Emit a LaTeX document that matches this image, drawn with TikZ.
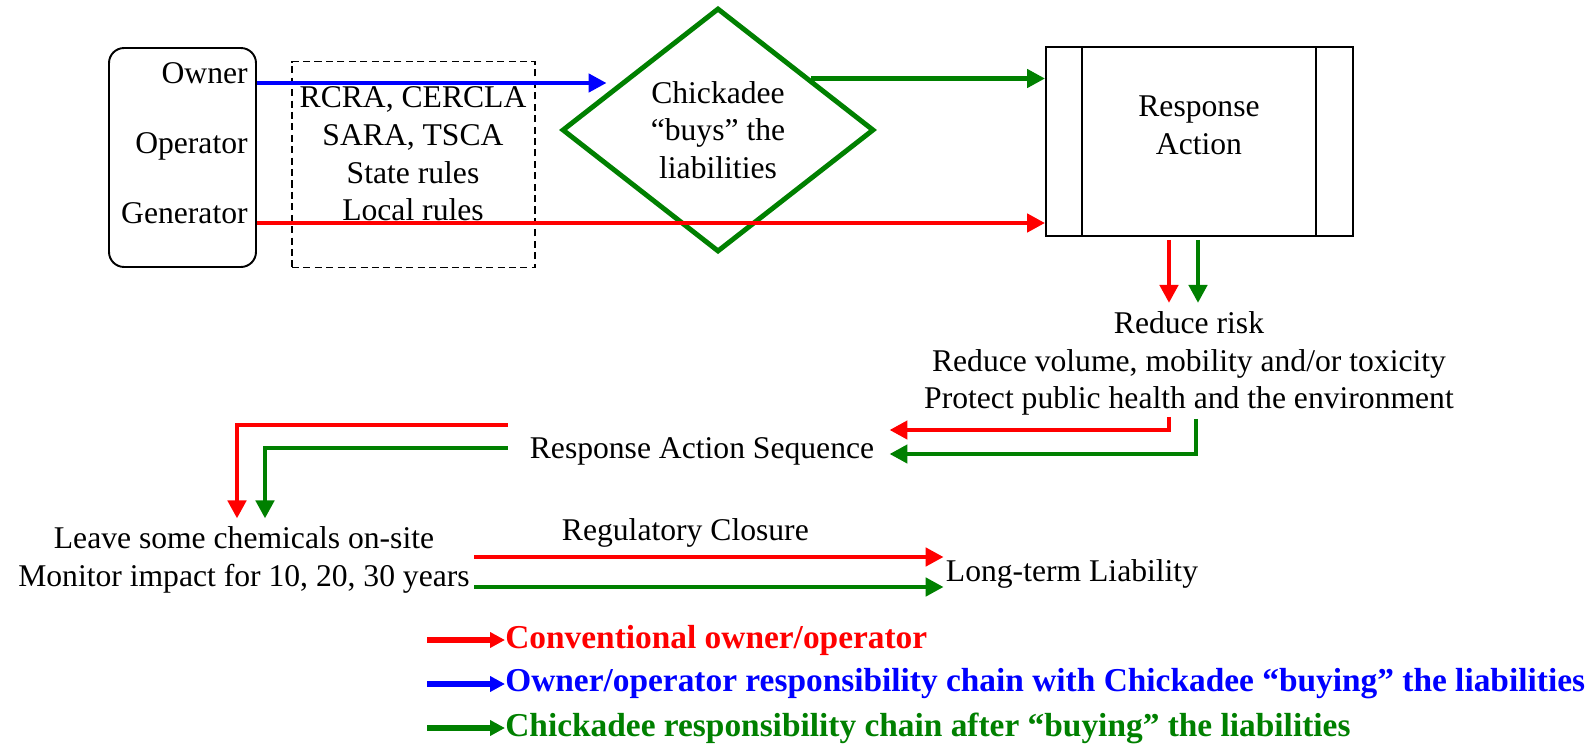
\documentclass[tikz,border=0pt]{standalone}
\usepackage{fontspec}
\setmainfont{Liberation Serif}
\usetikzlibrary{arrows.meta, shapes.geometric, calc}
\definecolor{chkGreen}{RGB}{0,128,0}
\tikzset{
  txt/.style = {inner sep=0pt, align=center, font=\fontsize{18}{21.4}\selectfont},
  partyBox/.style = {draw, line width=1.1pt, rounded corners=0.3cm,
    minimum width=2.94cm, minimum height=4.38cm},
  rulesBox/.style = {draw, dash pattern=on 4pt off 2.5pt, line width=0.9pt,
    minimum width=4.86cm, minimum height=4.12cm},
  choiceBox/.style = {txt, diamond, draw=chkGreen, line width=2.8pt, aspect=1.28,
    inner sep=0pt, minimum width=6.24cm, minimum height=4.88cm},
  procBox/.style = {draw, line width=1.1pt, minimum width=6.14cm, minimum height=3.78cm},
  flowArrow/.style = {line width=2.8pt, -{Triangle[length=0.36cm, width=0.36cm]}},
  redArrow/.style = {flowArrow, draw=red},
  blueArrow/.style = {flowArrow, draw=blue},
  greenArrow/.style = {flowArrow, draw=chkGreen},
  legendArrow/.style = {line width=3.2pt, -{Triangle[length=0.3cm, width=0.3cm]}},
  legendTxt/.style = {inner sep=0pt, anchor=west, font=\fontsize{19}{22}\selectfont\bfseries}
}
\begin{document}
\begin{tikzpicture}[x=0.02cm, y=-0.02cm]
  \useasboundingbox (0,0) rectangle (1589,747);

  % who is liable
  \node[partyBox] (party) at (182.5,157.5) {};
  \node[txt, anchor=base east] (ownr) at (248,83) {Owner};
  \node[txt, anchor=base east] (oper) at (248,153) {Operator};
  \node[txt, anchor=base east] (gen) at (248,223) {Generator};

  % regulations
  \node[rulesBox] (rules) at (413.5,164.5) {};
  \node[txt] (rulesTxt) at (413,154) {RCRA, CERCLA\\SARA, TSCA\\State rules\\Local rules};

  \node[choiceBox] (dmd) at (718,130) {Chickadee\\“buys” the\\liabilities};

  % response action box with side bars
  \node[procBox] (rsp) at (1199.5,141.5) {};
  \draw[line width=1.1pt] ($(rsp.north west)+(37,0)$) -- ($(rsp.south west)+(37,0)$)
    ($(rsp.north east)+(-38,0)$) -- ($(rsp.south east)+(-38,0)$);
  \node[txt] (rspTxt) at (1199,125) {Response\\Action};

  \node[txt] (goals) at (1189,363.5) {Reduce risk\\Reduce volume, mobility and/or toxicity\\Protect public health and the environment};
  \node[txt, inner xsep=0.3cm] (ras) at (702,451) {Response Action Sequence};
  \node[txt] (site) at (244,560) {Leave some chemicals on-site\\Monitor impact for 10, 20, 30 years};
  \node[txt, inner xsep=0.04cm] (ltl) at (1072,574) {Long-term Liability};

  % chains
  \draw[blueArrow] (ownr.base -| party.east) -- ($(ownr.base -| dmd.west)+(47,0)$);
  \draw[redArrow] (gen.base -| party.east) -- (gen.base -| rsp.west);
  \draw[greenArrow] (dmd.29) -- (dmd.29 -| rsp.west);

  \draw[redArrow] ($(rsp.south)+(-30.5,3)$) -- ($(rsp.south)+(-30.5,66)$);
  \draw[greenArrow] ($(rsp.south)+(-1.5,3)$) -- ($(rsp.south)+(-1.5,66)$);

  \draw[redArrow] ($(goals.south)+(-20,1)$) |- ($(ras.east)+(0,-21)$);
  \draw[greenArrow] ($(goals.south)+(7,3)$) |- ($(ras.east)+(0,3)$);

  \draw[redArrow] ($(ras.west)+(-7,-26)$) -| ($(site.north)+(-7,-8)$);
  \draw[greenArrow] ($(ras.west)+(-7,-3)$) -| ($(site.north)+(21,-8)$);

  \draw[redArrow] ($(site.east)+(4,-3)$) -- ($(site.east -| ltl.west)+(0,-3)$)
    node[txt, pos=0.45, above=0.15cm] (regCl) {Regulatory Closure};
  \draw[greenArrow] ($(site.east)+(4,27)$) -- ($(site.east -| ltl.west)+(0,27)$);

  % legend
  \node[legendTxt, text=red] (legConv) at (505,640) {Conventional owner/operator};
  \node[legendTxt, text=blue] (legChain) at (505,684) {Owner/operator responsibility chain with Chickadee “buying” the liabilities};
  \node[legendTxt, text=chkGreen] (legAfter) at (505,728) {Chickadee responsibility chain after “buying” the liabilities};
  \draw[legendArrow, red] ($(legConv.west)+(-78,0)$) -- (legConv.west);
  \draw[legendArrow, blue] ($(legChain.west)+(-78,0)$) -- (legChain.west);
  \draw[legendArrow, chkGreen] ($(legAfter.west)+(-78,0)$) -- (legAfter.west);
\end{tikzpicture}
\end{document}
